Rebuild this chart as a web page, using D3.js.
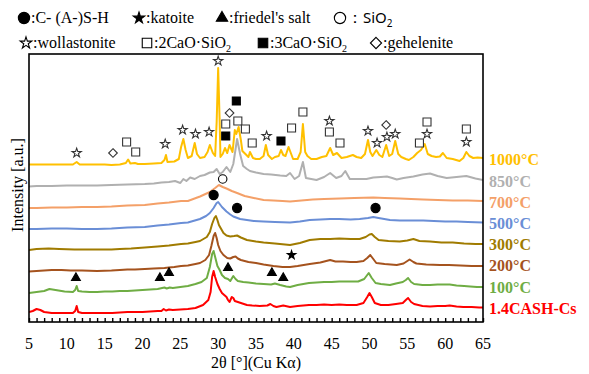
<!DOCTYPE html>
<html>
<head>
<meta charset="utf-8">
<script src="https://cdn.jsdelivr.net/npm/d3@7"></script>
<style>
  body { margin: 0; background: #fff; }
  svg { display: block; font-family: "Liberation Serif", "Times New Roman", serif; }
</style>
</head>
<body>
<svg id="chart" width="589" height="374"></svg>
<script>
// XRD patterns, [2θ, intensity(a.u., offset included)]
const cash = [[5,10],[5.5,11],[6,13],[6.5,12],[7,10],[8,9],[9,9],[10,9],[10.8,9],[11.1,11],[11.3,16],[11.5,10],[12,9],[13,9],[14,9],[15,9],[16,9],[17,9.5],[18,10],[19,10],[20,10],[21,10.5],[22,11],[22.5,11],[22.8,13],[23.1,11.5],[23.5,12.5],[24,12],[25,12.5],[26,13],[27,14],[28,17],[28.7,22],[29,30],[29.2,45],[29.4,51],[29.6,45],[29.9,38],[30.2,33],[30.5,29],[30.8,27],[31.1,25],[31.3,22],[31.5,20],[31.8,25],[32,24],[32.2,21],[32.6,20],[33,19],[33.8,17],[34.5,16.5],[35.5,16],[36.5,16.5],[36.9,18],[37.3,16],[37.7,15],[38.6,16.5],[39.5,15],[40.5,16],[42,17],[43,17],[44,17.5],[45,17],[46,17.5],[47,17],[48.3,17],[49.2,19],[49.7,25],[50,29],[50.3,25],[50.7,19],[51.5,17],[52.5,17],[53.5,18],[54.4,19],[54.8,22],[55.1,24],[55.5,20],[55.9,18],[57,16],[58,15.5],[59,16],[60,16],[60.6,16.5],[61.5,15.5],[62.4,15],[63.5,15],[64.5,14.5],[65,14.5]];
const t100 = [[5,29],[6,30],[7,31],[7.7,33],[8.5,32],[9.7,30.5],[10.8,30],[11.1,32],[11.3,36],[11.5,31],[12,30.5],[13,30],[14,30],[15,30.5],[16,30.5],[17,31],[18,31],[19,31.5],[20,32],[21,32.5],[22,33],[22.6,34],[22.9,34.5],[23.2,33.5],[23.6,34.5],[24,34],[25,35],[26,36],[27,38],[27.8,40],[28.5,44],[28.9,55],[29.2,68],[29.4,71],[29.6,65],[29.9,56],[30.2,52],[30.5,47],[30.9,44],[31.3,43],[31.6,41],[32,46],[32.3,43],[32.6,41],[33.3,40],[34,39.5],[35,38.5],[36,38],[37,37.5],[37.5,38.5],[38.2,37],[39,35.5],[39.5,35],[40.5,37],[42,39],[43,39.5],[44,40],[45,40],[46,40.5],[47,40.5],[48.5,40.5],[49.3,43],[49.9,49],[50.3,44],[50.8,39],[51.5,38],[52.7,37],[53.5,38.5],[54.4,40],[54.8,42],[55.1,44],[55.5,40],[55.9,38],[57,37],[58,37],[59,37.5],[60.6,37.5],[61.5,36.5],[62.5,36],[63.3,35.5],[64.2,35],[65,35]];
const t200 = [[5,50.5],[6,51],[7,51.5],[8,52],[9.3,52],[10.5,51.5],[12,51.5],[14,51],[15.9,51.5],[17,52],[18,52.5],[19,52.5],[20.3,53],[21.5,53.5],[22.9,54],[23.5,54.5],[24.2,55],[25.1,56],[26,56.5],[27,58],[27.6,59],[28.3,62],[28.8,67],[29.1,76],[29.4,86],[29.6,89],[29.8,84],[30,77],[30.3,71],[30.7,67],[31.2,64],[31.6,63.5],[32,65],[32.3,65.5],[32.6,63.5],[33,62],[34,60],[35,59],[36,57.5],[37.3,56],[38.5,55],[39.5,55],[40.5,56],[42.1,58],[43.5,59.5],[44.8,62],[45.5,60.5],[46.5,60.5],[47.5,60],[48.3,60],[49.2,61],[49.7,64],[50.1,67],[50.5,63],[50.9,59],[52,58],[53.6,57],[54.5,58.5],[55,61],[55.3,62.5],[55.8,60],[56.2,58.5],[57.5,57.5],[59.3,57],[60.5,57],[62,56.5],[63.5,56],[65,56]];
const t300 = [[5,72],[6,73],[7.6,73.5],[9,73],[11,72.5],[13,72.5],[15.9,72.5],[17,73],[18.5,73.5],[20.3,74.5],[22,75.5],[23.5,76.5],[25.1,78],[26,78.5],[27,80],[27.6,81],[28.5,85],[28.9,90],[29.2,98],[29.5,104],[29.7,106],[29.9,102],[30.1,97],[30.4,93],[30.7,89],[31.1,86.5],[31.6,85.5],[32.1,86],[32.5,86.5],[33,84.5],[33.8,82],[35,80.5],[36,79.5],[37.5,78.5],[39.5,77],[40.8,79],[42.1,82],[43.5,83],[44.8,83],[46,83.5],[47.5,83],[48.7,83],[49.5,85],[50,87.5],[50.3,88],[50.7,85],[51.2,82],[52.5,81],[54,80.5],[55,81.5],[55.8,83],[56.6,81],[58,80.5],[59.5,79.5],[61,79.5],[62.5,78.5],[64,78],[65,78]];
const t500 = [[5,93],[6,93],[8,93.5],[10,93.5],[12,93],[14,93],[15.9,93.5],[18,94.5],[20.3,95],[22,96.5],[23.5,97.5],[25.1,99],[26,99.5],[27.6,103],[28.4,106],[28.9,109],[29.4,114],[29.8,119],[30,120],[30.3,117],[30.5,115],[31.1,110.5],[31.6,107.5],[32,105.5],[32.9,103],[33.8,102],[34.7,101],[36,100.5],[37.5,100],[39.5,99.5],[40.8,100.5],[42.1,102],[43.5,102.5],[44.8,103],[46,103],[47.5,102.5],[48.7,103],[49.8,104],[50.5,105],[51.2,104],[52.7,102],[54,101.5],[55.5,101.5],[57.1,101.5],[58.5,101],[60,100.5],[61.5,100.5],[63,100],[65,99.5]];
const t700 = [[5,114],[6,114],[8,114.5],[10,114.5],[12,115],[14,115],[15.9,115.5],[18,116.5],[20.3,117],[22,118.5],[23.5,119.5],[25.1,121],[26,121],[27.6,125.5],[28.9,130],[29.6,134],[30.1,137],[30.6,135],[31.1,133.5],[31.8,131],[32.5,129],[33.5,126],[34.7,124],[36,122],[37.3,121.5],[38.5,121],[39.5,120.5],[41,121.5],[42.5,122.5],[44,123],[46.1,123.5],[48,124],[50.5,124.5],[52,124],[54,123.5],[55.5,123],[57.1,122.5],[59,122],[61,121.5],[63,121.5],[65,121]];
const t850 = [[5,135.5],[6,136],[8,136],[10,136.5],[12,136.5],[14,136.5],[15.9,137],[18,137.5],[20.3,138],[21.5,138.5],[22.5,139.5],[23.5,140],[24.3,141],[25,139],[25.4,143],[25.8,141],[26.3,144.5],[26.9,143],[27.6,146],[28.2,147],[28.9,149.5],[29.4,150],[29.8,153],[30.2,148],[30.6,150],[31.1,155],[31.6,150],[32,158],[32.5,183],[32.9,168],[33.3,156],[33.8,153],[34.2,151],[35,149.5],[36,148],[37,147.5],[38.2,146.5],[39,146],[39.5,149],[40.1,143],[40.7,146],[41.2,160],[41.6,144],[42.3,143],[43,142],[44,145],[44.8,149],[45.6,144],[46.3,146],[46.8,151],[47.4,143],[48.5,143],[49.6,143],[50.5,144.5],[51.5,145],[52.3,145.5],[53,144],[53.6,142.5],[54.5,144],[55.8,145.5],[57,147.5],[58,148.5],[59,146],[60.2,144],[61.5,145],[62.8,146],[64,143.5],[65,142]];
const t1000 = [[5,157.5],[7,157.5],[9,157.5],[10.8,157.5],[11.3,160],[11.7,157.5],[13,157.5],[15,157.5],[15.9,157],[17,157.5],[17.8,159],[18.1,162.5],[18.4,158.5],[19,159],[19.4,158],[20.3,158],[21.5,158.5],[22.5,159],[22.9,162],[23.1,167],[23.3,160],[24.2,160.5],[24.8,163],[25.1,175],[25.4,183],[25.7,172],[26,164],[26.5,166],[26.9,179],[27.2,168],[27.6,164],[28.2,165],[28.6,170],[28.9,177],[29.3,169],[29.6,166],[29.8,200],[30,254],[30.2,200],[30.3,165],[30.6,168],[30.9,174],[31.2,169],[31.5,177],[31.9,170],[32.2,192],[32.4,188],[32.7,195],[33,182],[33.2,171],[33.6,168],[34,165],[34.2,170],[34.6,164],[35,163],[35.5,163],[36,166],[36.3,177],[36.6,167],[37.1,163],[37.5,165],[38,166],[38.3,172],[38.6,167],[38.9,166],[39.3,175],[39.6,169],[39.9,163],[40.5,163],[40.9,170],[41.2,198],[41.5,170],[41.8,166],[42.3,163],[43,163],[43.7,165],[44.3,166],[44.8,174],[45.2,167],[45.7,169],[46.3,164],[47,165],[47.8,167],[48.3,165],[48.9,164],[49.4,168],[49.8,182],[50.1,170],[50.4,166],[50.9,172],[51.3,167],[51.7,165],[52.2,177],[52.6,166],[53,168],[53.4,181],[53.8,168],[54.2,165],[54.8,163],[55.2,162],[55.8,165],[56.3,169],[56.8,172],[57.3,178],[57.7,168],[58.2,166],[58.8,165],[59.3,165.5],[59.7,169],[60.2,164],[61,163],[61.9,161],[62.4,164],[62.8,170],[63.2,166],[63.7,164],[64.3,164.5],[65,164]];

const seriesNames = ["1000°C", "850°C", "700°C", "500°C", "300°C", "200°C", "100°C", "1.4CASH-Cs"];
const seriesData = [t1000, t850, t700, t500, t300, t200, t100, cash];
const seriesColors = ["#FFC000", "#B0B0B0", "#F4A068", "#6A8ED6", "#A07B00", "#A5531E", "#6FAD44", "#FF0000"];

// phase markers [2θ, intensity]
const wollastonite = [[11.3,169],[23,178],[25.3,192],[27,188],[28.8,190],[30,261],[36.4,186],[44.7,201],[49.8,191],[51,179],[52.3,185],[53.4,188],[57.6,188],[62.8,180]];
const gehlenite = [[16.1,169],[31.5,209],[52.2,197]];
const c2s = [[17.9,180],[19.1,170],[31,198],[32.6,201],[33.6,193],[34.5,179],[39.7,194],[41.2,210],[44.7,190],[46.1,179],[56.6,179],[57.6,200],[62.8,193]];
const c3s = [[31,186],[32.4,221],[38.3,181]];
const sio2 = [[30.6,143]];
const cash_h = [[29.4,127],[32.5,114],[50.8,114]];
const katoite = [[39.7,67]];
const friedel = [[11.2,44],[22.3,44],[23.5,49],[31.3,54],[37.1,49],[38.6,44]];

const xTicks = d3.range(5, 66, 5);

const margin = { left: 29, right: 483, top: 54, bottom: 322 };
const svg = d3.select("#chart");

const x = d3.scaleLinear().domain([5, 65]).range([margin.left, margin.right]);
const y = d3.scaleLinear().domain([0, 268]).range([margin.bottom, margin.top]);

svg.append("clipPath").attr("id", "plot")
  .append("rect")
  .attr("x", margin.left).attr("y", margin.top)
  .attr("width", margin.right - margin.left).attr("height", margin.bottom - margin.top);

const line = d3.line().x((d) => x(d[0])).y((d) => y(d[1]));

// draw bottom series first so upper ones sit on top
svg.append("g")
  .attr("clip-path", "url(#plot)")
  .selectAll("path")
  .data(seriesData.map((d, i) => ({ d, c: seriesColors[i] })).reverse())
  .join("path")
  .attr("d", (s) => line(s.d))
  .style("fill", "none")
  .style("stroke", (s) => s.c)
  .style("stroke-width", 2)
  .style("stroke-linejoin", "round");

// markers
const markers = [
  { pts: wollastonite, type: d3.symbolStar, size: 26, fill: "#fff", stroke: "#333" },
  { pts: gehlenite, type: d3.symbolDiamond2, size: 48, fill: "#fff", stroke: "#333" },
  { pts: c2s, type: d3.symbolSquare, size: 64, fill: "#fff", stroke: "#333" },
  { pts: c3s, type: d3.symbolSquare, size: 64, fill: "#000", stroke: "#000" },
  { pts: sio2, type: d3.symbolCircle, size: 56, fill: "#fff", stroke: "#000" },
  { pts: cash_h, type: d3.symbolCircle, size: 66, fill: "#000", stroke: "#000" },
  { pts: katoite, type: d3.symbolStar, size: 22, fill: "#000", stroke: "#000" },
  { pts: friedel, type: d3.symbolTriangle, size: 34, fill: "#000", stroke: "#000" },
];

markers.forEach((m) => {
  svg.append("g")
    .selectAll("path")
    .data(m.pts)
    .join("path")
    .attr("transform", (d) => `translate(${x(d[0])},${y(d[1])})`)
    .attr("d", d3.symbol().type(m.type).size(m.size))
    .style("fill", m.fill)
    .style("stroke", m.stroke)
    .style("stroke-width", 1.1);
});

// frame + inward ticks
svg.append("rect")
  .attr("x", margin.left).attr("y", margin.top)
  .attr("width", margin.right - margin.left).attr("height", margin.bottom - margin.top)
  .style("fill", "none").style("stroke", "#000").style("stroke-width", 1.6);

const xAxis = svg.append("g")
  .attr("transform", `translate(0,${margin.bottom})`)
  .call(d3.axisBottom(x).tickValues(d3.range(5, 66, 1)).tickSize(-4).tickFormat(""));
xAxis.select(".domain").remove();
xAxis.selectAll("line").style("stroke", "#000").style("stroke-width", 1.4);

svg.append("g")
  .selectAll("text")
  .data(xTicks)
  .join("text")
  .attr("x", (d) => x(d))
  .attr("y", 349)
  .attr("text-anchor", "middle")
  .style("font-family", "'Liberation Serif', serif")
  .style("font-size", "16px")
  .text((d) => d);

svg.append("text")
  .attr("x", 256).attr("y", 368)
  .attr("text-anchor", "middle")
  .style("font-family", "'Liberation Serif', serif")
  .style("font-size", "16px")
  .text("2θ [°](Cu Kα)");

svg.append("text")
  .attr("transform", "translate(23,185) rotate(-90)")
  .attr("text-anchor", "middle")
  .style("font-family", "'Liberation Serif', serif")
  .style("font-size", "16px")
  .text("Intensity [a.u.]");

// series labels
const labelY = [159, 181, 202, 223, 244, 265, 287, 308];
svg.append("g")
  .selectAll("text")
  .data(seriesNames)
  .join("text")
  .attr("x", 489)
  .attr("y", (d, i) => labelY[i] + 5.5)
  .style("font-size", "16px")
  .style("font-weight", "bold")
  .style("fill", (d, i) => seriesColors[i])
  .text((d) => d);

// legend
const legend = [
  { sx: 24, tx: 31, row: 0, type: d3.symbolCircle, size: 100, fill: "#000", label: [":C- (A-)S-H"] },
  { sx: 139, tx: 146, row: 0, type: d3.symbolStar, size: 40, fill: "#000", label: [":katoite"] },
  { sx: 222, tx: 229, row: 0, type: d3.symbolTriangle, size: 56, fill: "#000", label: [":friedel's salt"] },
  { sx: 340, tx: 347, row: 0, type: d3.symbolCircle, size: 100, fill: "#fff", label: ["：", "SiO", "2"], sans: true },
  { sx: 26, tx: 33, row: 1, type: d3.symbolStar, size: 42, fill: "#fff", label: [":wollastonite"] },
  { sx: 147, tx: 154, row: 1, type: d3.symbolSquare, size: 90, fill: "#fff", label: [":2CaO·SiO", "2"] },
  { sx: 263, tx: 270, row: 1, type: d3.symbolSquare, size: 90, fill: "#000", label: [":3CaO·SiO", "2"] },
  { sx: 376, tx: 383, row: 1, type: d3.symbolDiamond2, size: 80, fill: "#fff", label: [":gehelenite"] },
];
const rowY = [23, 48];

legend.forEach((l) => {
  svg.append("path")
    .attr("transform", `translate(${l.sx},${rowY[l.row] - 5})`)
    .attr("d", d3.symbol().type(l.type).size(l.size))
    .style("fill", l.fill)
    .style("stroke", "#000")
    .style("stroke-width", 1.1);
  const t = svg.append("text").attr("x", l.tx).attr("y", rowY[l.row]).style("font-size", "16px");
  if (l.sans) {
    t.append("tspan").text(l.label[0]);
    t.append("tspan").style("font-family", "'Noto Sans', sans-serif").style("font-size", "15px").text(l.label[1]);
    t.append("tspan").style("font-family", "'Noto Sans', sans-serif").style("font-size", "10px").attr("dy", 4).text(l.label[2]);
  } else {
    t.append("tspan").text(l.label[0]);
    if (l.label[1]) t.append("tspan").style("font-size", "10px").attr("dy", 4).text(l.label[1]);
  }
});
</script>
</body>
</html>
